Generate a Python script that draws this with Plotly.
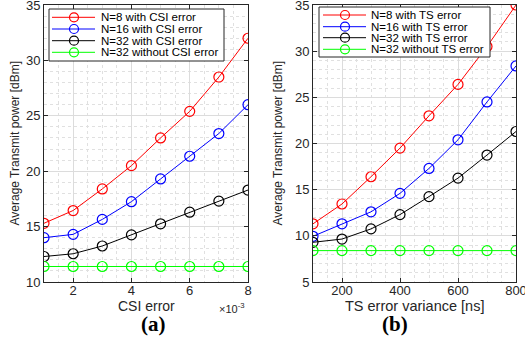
import plotly.graph_objects as go

W, H = 525, 337

# Data
csi_x = [1, 2, 3, 4, 5, 6, 7, 8]  # x 1e-3
csi_n8 = [15.3, 16.45, 18.4, 20.5, 23.0, 25.4, 28.5, 32.0]
csi_n16 = [14.0, 14.3, 15.65, 17.25, 19.3, 21.35, 23.4, 26.0]
csi_n32 = [12.3, 12.55, 13.25, 14.25, 15.25, 16.3, 17.3, 18.3]
csi_n32_no = [11.4, 11.4, 11.4, 11.4, 11.4, 11.4, 11.4, 11.4]

ts_x = [100, 200, 300, 400, 500, 600, 700, 800]
ts_n8 = [11.3, 13.45, 16.4, 19.5, 23.0, 26.4, 30.5, 35.0]
ts_n16 = [9.95, 11.3, 12.6, 14.6, 17.3, 20.4, 24.5, 28.4]
ts_n32 = [9.3, 9.65, 10.75, 12.3, 14.25, 16.25, 18.75, 21.3]
ts_n32_no = [8.4, 8.4, 8.4, 8.4, 8.4, 8.4, 8.4, 8.4]

csi_names = ["N=8 with CSI error", "N=16 with CSI error", "N=32 with CSI error", "N=32 without CSI error"]
ts_names = ["N=8 with TS error", "N=16 with TS error", "N=32 with TS error", "N=32 without TS error"]
colors = ["#ff0000", "#0000ff", "#000000", "#00ff00"]

FONT = "Liberation Sans, Arial, sans-serif"
AXC = "#262626"

fig = go.Figure()

for ys, name, c in zip([csi_n8, csi_n16, csi_n32, csi_n32_no], csi_names, colors):
    fig.add_trace(go.Scatter(x=csi_x, y=ys, name=name, mode="lines+markers",
                             line=dict(color=c, width=1),
                             marker=dict(symbol="circle-open", size=10, color=c, line=dict(width=1.2, color=c)),
                             xaxis="x", yaxis="y", showlegend=False))
for ys, name, c in zip([ts_n8, ts_n16, ts_n32, ts_n32_no], ts_names, colors):
    fig.add_trace(go.Scatter(x=ts_x, y=ys, name=name, mode="lines+markers",
                             line=dict(color=c, width=1),
                             marker=dict(symbol="circle-open", size=10, color=c, line=dict(width=1.2, color=c)),
                             xaxis="x2", yaxis="y2", showlegend=False))

def px_x(p):
    return p / W

def px_y(p):
    return 1 - p / H

grid = "#dcdcdc"
minor_grid = "#e0e0e0"
axis_common = dict(showline=True, linecolor=AXC, linewidth=1, mirror="ticks",
                   ticks="inside", ticklen=4, tickcolor=AXC, showgrid=True,
                   gridcolor=grid, gridwidth=1, zeroline=False, automargin=False,
                   ticklabeloverflow="allow",
                   tickfont=dict(family=FONT, size=13, color=AXC))

fig.update_layout(
    width=W, height=H,
    margin=dict(l=0, r=0, t=0, b=0),
    paper_bgcolor="white", plot_bgcolor="white",
    showlegend=False,
    xaxis=dict(domain=[px_x(44), px_x(248)], range=[1, 8], tickvals=[2, 4, 6, 8],
               minor=dict(dtick=0.5, showgrid=True, gridcolor=minor_grid, griddash="dot", ticks=""),
               anchor="y", ticklabelstandoff=-4, **axis_common),
    yaxis=dict(domain=[px_y(282), px_y(5)], range=[10, 35], dtick=5,
               minor=dict(dtick=1, showgrid=True, gridcolor=minor_grid, griddash="dot", ticks=""),
               anchor="x", **axis_common),
    xaxis2=dict(domain=[px_x(313), px_x(516)], range=[100, 800], tickvals=[200, 400, 600, 800],
                minor=dict(dtick=50, showgrid=True, gridcolor=minor_grid, griddash="dot", ticks=""),
                anchor="y2", ticklabelstandoff=-4, **axis_common),
    yaxis2=dict(domain=[px_y(282), px_y(5)], range=[5, 35], dtick=5,
                minor=dict(dtick=1, showgrid=True, gridcolor=minor_grid, griddash="dot", ticks=""),
                anchor="x2", **axis_common),
)

shapes = []
ann = []

def add_legend(box, rows, line_x, circ_x, text_x, names):
    x0, y0, x1, y1 = box
    shapes.append(dict(type="rect", xref="paper", yref="paper",
                       x0=px_x(x0), x1=px_x(x1), y0=px_y(y1), y1=px_y(y0),
                       fillcolor="white", line=dict(color=AXC, width=1), layer="above"))
    for ry, name, c in zip(rows, names, colors):
        shapes.append(dict(type="line", xref="paper", yref="paper",
                           x0=px_x(line_x[0]), x1=px_x(line_x[1]), y0=px_y(ry), y1=px_y(ry),
                           line=dict(color=c, width=1), layer="above"))
        shapes.append(dict(type="circle", xref="paper", yref="paper",
                           xsizemode="pixel", ysizemode="pixel",
                           xanchor=px_x(circ_x), yanchor=px_y(ry),
                           x0=-4.5, x1=4.5, y0=-4.5, y1=4.5,
                           line=dict(color=c, width=1.2), fillcolor="rgba(0,0,0,0)", layer="above"))
        ann.append(dict(text=name, x=px_x(text_x), y=px_y(ry), xref="paper", yref="paper",
                        xanchor="left", yanchor="middle", showarrow=False,
                        font=dict(family=FONT, size=11.5, color="#000000")))

add_legend((49, 9, 224, 61), [17.3, 29.0, 40.7, 52.3], (52, 95), 74, 99, csi_names)
add_legend((319, 7, 490, 57), [15.0, 26.7, 37.7, 49.3], (323, 366), 345, 369, ts_names)

ann.append(dict(text="Average Transmit power [dBm]", x=px_x(14), y=px_y(143.5), xref="paper", yref="paper",
                xanchor="center", yanchor="middle",
                showarrow=False, textangle=-90, font=dict(family=FONT, size=12, color=AXC)))
ann.append(dict(text="Average Transmit power [dBm]", x=px_x(277), y=px_y(143.5), xref="paper", yref="paper",
                xanchor="center", yanchor="middle",
                showarrow=False, textangle=-90, font=dict(family=FONT, size=12, color=AXC)))
ann.append(dict(text="CSI error", x=px_x(146), y=px_y(305.5), xref="paper", yref="paper",
                xanchor="center", yanchor="middle",
                showarrow=False, font=dict(family=FONT, size=14, color=AXC)))
ann.append(dict(text="TS error variance [ns]", x=px_x(414), y=px_y(305.5), xref="paper", yref="paper",
                xanchor="center", yanchor="middle",
                showarrow=False, font=dict(family=FONT, size=14.5, color=AXC)))
ann.append(dict(text="×10<sup>-3</sup>", x=px_x(232), y=px_y(308), xref="paper", yref="paper",
                xanchor="center", yanchor="middle",
                showarrow=False, font=dict(family=FONT, size=11, color=AXC)))
ann.append(dict(text="<b>(a)</b>", x=px_x(153), y=px_y(323.5), xref="paper", yref="paper",
                xanchor="center", yanchor="middle",
                showarrow=False, font=dict(family="Liberation Serif, Times New Roman, serif", size=21, color="#000000")))
ann.append(dict(text="<b>(b)</b>", x=px_x(395), y=px_y(323.5), xref="paper", yref="paper",
                xanchor="center", yanchor="middle",
                showarrow=False, font=dict(family="Liberation Serif, Times New Roman, serif", size=21, color="#000000")))

fig.update_layout(shapes=shapes, annotations=ann)

fig.write_html("out.html", config={"displayModeBar": False},
               post_script="document.body.style.margin='0';document.body.style.overflow='hidden';")
